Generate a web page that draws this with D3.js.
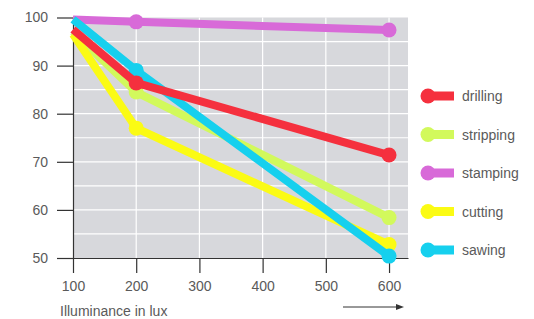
<!DOCTYPE html>
<html>
<head>
<meta charset="utf-8">
<script src="https://cdn.jsdelivr.net/npm/d3@7"></script>
<style>
  body { margin: 0; background: #fff; }
  svg text { font-family: "Liberation Sans", Arial, sans-serif; fill: #5a5a5a; }
</style>
</head>
<body>
<div id="container"></div>
<script>
// data
const lux = [100, 200, 600];
const drilling = [97.5, 86.4, 71.4];
const stripping = [97, 84.5, 58.4];
const stamping = [99.6, 99.1, 97.4];
const cutting = [96.5, 77, 52.8];
const sawing = [99.6, 89, 50.4];
const seriesNames = ["drilling", "stripping", "stamping", "cutting", "sawing"];
const xTicks = [100, 200, 300, 400, 500, 600];
const yTicks = [50, 60, 70, 80, 90, 100];

const colors = {
    drilling: "#f5303e",
    stripping: "#d2f95c",
    stamping: "#d86ad8",
    cutting: "#fbfb14",
    sawing: "#16d0ee"
};
const values = {drilling, stripping, stamping, cutting, sawing};
// draw order: red ends up on top
const drawOrder = ["stamping", "stripping", "cutting", "sawing", "drilling"];

const width = 534, height = 319;
const svg = d3.select("#container").append("svg")
    .attr("width", width)
    .attr("height", height);

// scales
const x = d3.scaleLinear().domain([100, 630]).range([73, 408]);
const y = d3.scaleLinear().domain([50, 100]).range([258, 17.5]);

// grey plot background
svg.append("rect")
    .attr("x", x(100)).attr("y", y(100))
    .attr("width", x(630) - x(100))
    .attr("height", y(50) - y(100))
    .attr("fill", "#d7d8dc");

// white grid
svg.append("g").selectAll("line")
    .data(d3.range(55, 100, 5))
    .join("line")
    .attr("x1", x(100)).attr("x2", x(630))
    .attr("y1", d => y(d)).attr("y2", d => y(d))
    .attr("stroke", "#fff").attr("stroke-width", 1.2);
svg.append("g").selectAll("line")
    .data(xTicks.slice(1))
    .join("line")
    .attr("x1", d => x(d)).attr("x2", d => x(d))
    .attr("y1", y(100)).attr("y2", y(50))
    .attr("stroke", "#fff").attr("stroke-width", 1.2);

// axes
const xAxis = svg.append("g")
    .attr("transform", `translate(0,${y(50)})`)
    .call(d3.axisBottom(x).tickValues(xTicks).tickSize(15).tickPadding(8).tickSizeOuter(0));
const yAxis = svg.append("g")
    .attr("transform", `translate(${x(100)},0)`)
    .call(d3.axisLeft(y).tickValues(yTicks).tickSize(16).tickPadding(9).tickSizeOuter(0));
[xAxis, yAxis].forEach(a => {
    a.select(".domain").attr("stroke", "#333").attr("stroke-width", 1.2);
    a.selectAll(".tick line").attr("stroke", "#333").attr("stroke-width", 1.2);
    a.selectAll("text").attr("font-size", 14).attr("fill", "#5a5a5a")
        .style("font-family", "'Liberation Sans', Arial, sans-serif");
});

// axis title and arrow
svg.append("text")
    .attr("x", 60).attr("y", 316)
    .attr("font-size", 14)
    .text("Illuminance in lux");
svg.append("line")
    .attr("x1", 343).attr("x2", 398)
    .attr("y1", 307).attr("y2", 307)
    .attr("stroke", "#333").attr("stroke-width", 1);
svg.append("path")
    .attr("d", "M396,304 L404,307 L396,310 Z")
    .attr("fill", "#333");

// lines
const line = d3.line().x((d, i) => x(lux[i])).y(d => y(d));
drawOrder.forEach(name => {
    const g = svg.append("g");
    g.append("path")
        .datum(values[name])
        .attr("fill", "none")
        .attr("stroke", colors[name])
        .attr("stroke-width", 8)
        .attr("stroke-linejoin", "round")
        .attr("d", line);
    g.selectAll("circle")
        .data(values[name].slice(1))
        .join("circle")
        .attr("cx", (d, i) => x(lux[i + 1]))
        .attr("cy", d => y(d))
        .attr("r", 7.5)
        .attr("fill", colors[name]);
});

// legend
const legend = svg.append("g");
const row = legend.selectAll("g")
    .data(seriesNames)
    .join("g")
    .attr("transform", (d, i) => `translate(0,${96 + i * 38.5})`);
row.append("rect")
    .attr("x", 428).attr("y", -4.5)
    .attr("width", 26).attr("height", 9)
    .attr("fill", d => colors[d]);
row.append("circle")
    .attr("cx", 428).attr("cy", 0).attr("r", 7.5)
    .attr("fill", d => colors[d]);
row.append("text")
    .attr("x", 462).attr("y", 5)
    .attr("font-size", 14)
    .text(d => d);
</script>
</body>
</html>
